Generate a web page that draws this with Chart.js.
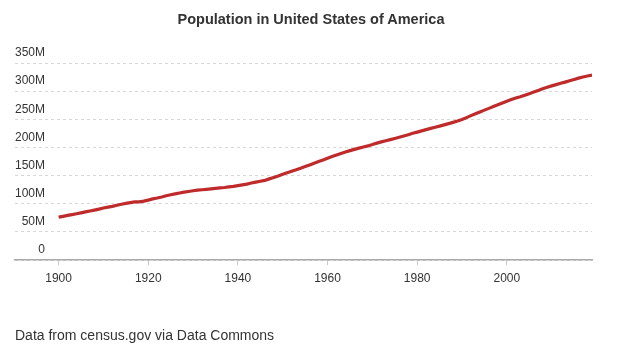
<!DOCTYPE html>
<html>
<head>
<meta charset="utf-8">
<script src="https://cdn.jsdelivr.net/npm/chart.js@4/dist/chart.umd.min.js"></script>
<style>
  html, body { margin: 0; padding: 0; background: #ffffff; }
  #wrap { position: relative; width: 636px; height: 355px; overflow: hidden; }
  #c { position: absolute; left: 0; top: 0; }
  #title { position: absolute; left: 0; width: 622px; top: 11px; text-align: center;
           font: bold 14.5px "Liberation Sans", Arial, sans-serif; color: #333; }
  #source { position: absolute; left: 15px; top: 327px;
            font: 14px "Liberation Sans", Arial, sans-serif; color: #333; }
</style>
</head>
<body>
<div id="wrap">
  <canvas id="c" width="636" height="355"></canvas>
  <div id="title">Population in United States of America</div>
  <div id="source">Data from census.gov via Data Commons</div>
</div>
<script>
// Years of observation
const years = [
  1900,1901,1902,1903,1904,1905,1906,1907,1908,1909,
  1910,1911,1912,1913,1914,1915,1916,1917,1918,1919,
  1920,1921,1922,1923,1924,1925,1926,1927,1928,1929,
  1930,1931,1932,1933,1934,1935,1936,1937,1938,1939,
  1940,1941,1942,1943,1944,1945,1946,1947,1948,1949,
  1950,1951,1952,1953,1954,1955,1956,1957,1958,1959,
  1960,1961,1962,1963,1964,1965,1966,1967,1968,1969,
  1970,1971,1972,1973,1974,1975,1976,1977,1978,1979,
  1980,1981,1982,1983,1984,1985,1986,1987,1988,1989,
  1990,1991,1992,1993,1994,1995,1996,1997,1998,1999,
  2000,2001,2002,2003,2004,2005,2006,2007,2008,2009,
  2010,2011,2012,2013,2014,2015,2016,2017,2018,2019
];
// Population, millions
const populationMillions = [
  76.09,77.58,79.16,80.63,82.17,83.82,85.45,87.01,88.71,90.49,
  92.41,93.86,95.34,97.23,99.11,100.55,101.96,103.27,103.21,104.51,
  106.46,108.54,110.05,111.95,114.11,115.83,117.40,119.04,120.51,121.77,
  123.08,124.04,124.84,125.58,126.37,127.25,128.05,128.83,129.83,130.88,
  132.12,133.40,134.86,136.74,138.40,139.93,141.39,144.13,146.63,149.19,
  152.27,154.88,157.55,160.18,163.03,165.93,168.90,171.98,174.88,177.83,
  180.67,183.69,186.54,189.24,191.89,194.30,196.56,198.71,200.71,202.68,
  205.05,207.66,209.90,211.91,213.85,215.97,218.04,220.24,222.59,225.06,
  227.22,229.47,231.66,233.79,235.82,237.92,240.13,242.29,244.50,246.82,
  249.62,252.98,256.51,259.92,263.13,266.28,269.39,272.65,275.85,279.04,
  282.16,284.97,287.63,290.11,292.81,295.52,298.38,301.23,304.09,306.77,
  309.33,311.58,313.87,316.06,318.39,320.74,323.07,325.12,326.84,328.33
];
// Tick labels
const xTickYears = [1900, 1920, 1940, 1960, 1980, 2000];
const yTickValues = [0, 50e6, 100e6, 150e6, 200e6, 250e6, 300e6, 350e6];
const yTickLabels = ['0', '50M', '100M', '150M', '200M', '250M', '300M', '350M'];

const points = years.map((yr, i) => ({ x: yr, y: populationMillions[i] * 1e6 }));

Chart.defaults.font.family = '"Liberation Sans", Arial, sans-serif';
Chart.defaults.font.size = 12;
Chart.defaults.color = '#333';

new Chart(document.getElementById('c'), {
  type: 'line',
  data: {
    datasets: [{
      label: 'Population',
      data: points,
      borderColor: '#bf2a2a',
      borderWidth: 3.2,
      pointRadius: 0,
      tension: 0,
      fill: false
    }]
  },
  options: {
    responsive: false,
    animation: false,
    layout: { padding: { left: 15, right: 44, top: 63, bottom: 65 } },
    plugins: { legend: { display: false }, title: { display: false }, tooltip: { enabled: false } },
    scales: {
      x: {
        type: 'linear',
        min: 1890.27,
        max: 2019,
        afterFit: (s) => { s.height = 30; },
        afterBuildTicks: (s) => { s.ticks = xTickYears.map(v => ({ value: v })); },
        ticks: {
          includeBounds: false,
          autoSkip: false,
          maxRotation: 0,
          padding: 6,
          color: '#333',
          font: { size: 12 },
          callback: (v) => String(v)
        },
        grid: { display: true, drawOnChartArea: false, drawTicks: true, tickLength: 5, tickColor: '#c8c8c8', tickWidth: 1 },
        border: { display: true, color: '#aaaaaa', width: 1.5 }
      },
      y: {
        type: 'linear',
        min: 0,
        max: 350e6,
        afterBuildTicks: (s) => { s.ticks = yTickValues.map(v => ({ value: v })); },
        ticks: {
          mirror: true,
          crossAlign: 'far',
          padding: 0,
          labelOffset: -10,
          color: '#333',
          font: { size: 12 },
          callback: (v) => yTickLabels[yTickValues.indexOf(v)]
        },
        grid: { display: true, drawTicks: false, color: '#d6d6d6', lineWidth: 1 },
        border: { display: false, dash: [3, 3] }
      }
    }
  }
});
</script>
</body>
</html>
